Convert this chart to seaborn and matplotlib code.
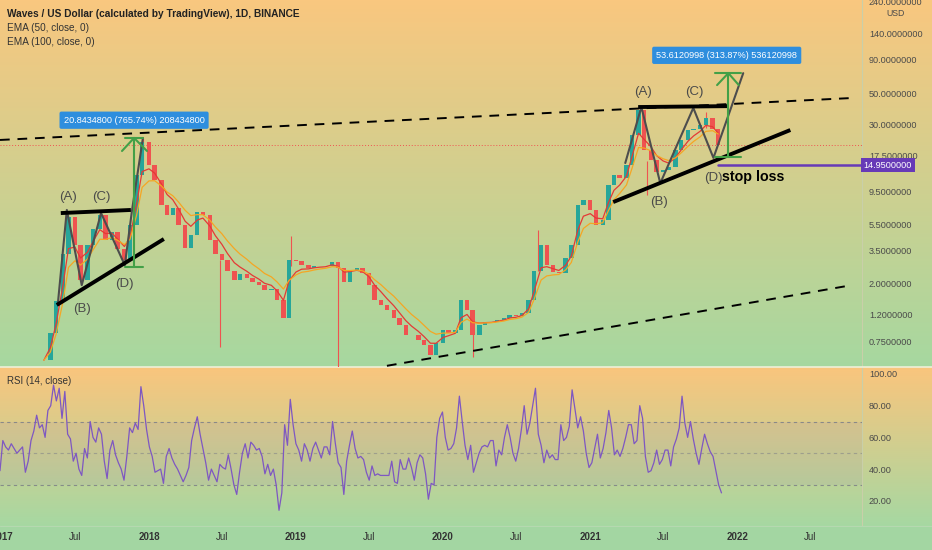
import numpy as np
import pandas as pd
import matplotlib
matplotlib.use('Agg')
import matplotlib.pyplot as plt
import matplotlib.dates as mdates
import matplotlib.ticker as mticker
import seaborn as sns

# semi-monthly closes (1st / 15th of each month)
close = [0.55, 0.87, 1.5, 3.3, 6.2, 3.9, 2.14, 3.9, 5.1, 6.4,
         4.2, 4.8, 3.6, 3.0, 5.4, 12.6, 22.0, 15.0, 11.6, 7.6,
         6.4, 7.2, 5.4, 3.7, 4.6, 6.8, 6.4, 4.2, 3.3, 3.0,
         2.5, 2.14, 2.36, 2.2, 2.06, 1.96, 1.8, 1.85, 1.52, 1.12,
         3.0, 2.95, 2.75, 2.6, 2.7, 2.7, 2.7, 2.9, 2.6, 2.06,
         2.5, 2.6, 2.4, 1.96, 1.52, 1.4, 1.29, 1.12, 1.0, 0.84,
         0.84, 0.77, 0.71, 0.60, 0.73, 0.92, 0.87, 0.92, 1.52, 1.29,
         0.84, 1.0, 1.05, 1.05, 1.09, 1.12, 1.18, 1.16, 1.22, 1.52,
         2.5, 3.9, 2.75, 2.45, 2.4, 3.1, 3.9, 7.6, 8.3, 7.0,
         5.4, 5.9, 10.7, 12.6, 12.0, 15.0, 24.9, 38.0, 19.3, 16.3,
         13.3, 13.8, 14.6, 19.3, 22.9, 27.1, 27.7, 29.5, 33.5, 27.7,
         21.0]
candle_dates = pd.date_range('2017-04-15', periods=len(close), freq='SMS')

# long wicks that stick out of the bodies
wick_dates = ['2017-12-17', '2018-06-26', '2018-12-20', '2019-04-16',
              '2020-03-15', '2020-08-24', '2021-05-22', '2021-10-16']
wick_lo = [16.0, 0.69, 2.7, 0.49, 0.58, 2.5, 9.0, 28.0]
wick_hi = [23.7, 3.0, 4.5, 2.7, 1.0, 5.0, 16.0, 37.0]

# weekly RSI (14) readings
rsi = [39, 58, 54, 52, 56, 53, 50, 52, 54, 38, 45, 58, 64, 74, 66, 68, 60, 77, 80, 93,
       83, 91, 72, 89, 62, 59, 45, 50, 40, 36, 53, 47, 70, 60, 57, 66, 62, 45, 34, 52,
       58, 49, 44, 40, 33, 48, 66, 63, 69, 65, 92, 80, 65, 54, 48, 38, 39, 40, 31, 48,
       53, 47, 43, 40, 36, 32, 36, 41, 58, 66, 73, 62, 53, 44, 33, 40, 36, 32, 43, 41,
       40, 49, 40, 30, 24, 38, 50, 56, 47, 57, 55, 52, 53, 48, 37, 43, 36, 40, 30, 14,
       25, 68, 55, 84, 68, 56, 52, 45, 56, 52, 45, 53, 57, 52, 47, 54, 54, 49, 70, 56,
       44, 41, 24, 45, 55, 64, 53, 47, 48, 46, 38, 33, 42, 36, 37, 36, 36, 36, 36, 45,
       32, 31, 46, 40, 40, 47, 41, 33, 44, 49, 47, 37, 21, 31, 30, 60, 72, 76, 60, 52,
       53, 56, 66, 86, 70, 55, 46, 55, 38, 44, 50, 54, 55, 54, 58, 58, 42, 52, 49, 60,
       68, 60, 50, 45, 53, 65, 80, 62, 69, 80, 91, 62, 55, 44, 52, 47, 49, 46, 46, 68,
       58, 60, 67, 90, 78, 66, 73, 64, 50, 41, 44, 53, 62, 47, 53, 63, 77, 66, 49, 52,
       48, 53, 60, 68, 68, 56, 58, 80, 72, 48, 38, 39, 44, 52, 43, 46, 52, 52, 42, 54,
       59, 66, 86, 69, 60, 70, 59, 50, 43, 53, 62, 56, 51, 48, 39, 30, 25]
rsi_dates = pd.date_range('2016-12-27', periods=len(rsi), freq='7D')

price_ticks = [240, 140, 90, 50, 30, 17.5, 9.5, 5.5, 3.5, 2.0, 1.2, 0.75]
rsi_ticks = [20, 40, 60, 80, 100]
last_price = 21.0
stop_loss = 14.95

# drawings on the chart
upper_dash_dates = ['2016-12-27', '2022-10-13']
upper_dash_vals = [22.9, 46.6]
lower_dash_dates = ['2019-08-15', '2022-10-13']
lower_dash_vals = [0.50, 1.96]
left_top_dates = ['2017-05-27', '2017-11-17']
left_top_vals = [6.64, 7.0]
left_base_dates = ['2017-05-17', '2018-02-07']
left_base_vals = [1.40, 4.28]
left_zig_dates = ['2017-05-20', '2017-06-11', '2017-07-18', '2017-09-04',
                  '2017-11-02', '2017-11-20', '2017-12-17']
left_zig_vals = [1.46, 7.0, 1.96, 6.64, 2.75, 7.0, 23.7]
right_top_dates = ['2021-04-30', '2021-12-07']
right_top_vals = [40.0, 40.6]
right_base_dates = ['2021-02-27', '2022-05-13']
right_base_vals = [8.0, 27.1]
right_zig_dates = ['2021-03-29', '2021-05-08', '2021-06-24', '2021-09-14',
                   '2021-11-03', '2022-01-16']
right_zig_vals = [15.5, 40.0, 11.0, 39.4, 16.9, 71.0]

# measure arrows: shaft date, bracket start/end, bottom, top, head wings
left_arrow = ['2017-11-25', '2017-11-02', '2017-12-17', 2.66, 23.7, '2017-10-26', '2017-12-27', 19.0]
right_arrow = ['2021-12-10', '2021-11-08', '2022-01-11', 17.1, 71.0, '2021-11-12', '2022-01-05', 58.0]

pattern_labels = ['(A)', '(B)', '(C)', '(D)', '(A)', '(B)', '(C)', '(D)']
pattern_label_dates = ['2017-06-14', '2017-07-18', '2017-09-04', '2017-11-02',
                       '2021-05-13', '2021-06-21', '2021-09-16', '2021-11-03']
pattern_label_vals = [8.7, 1.31, 8.7, 2.0, 51.5, 8.0, 51.5, 12.0]

measure_texts = ['20.8434800 (765.74%) 208434800', '53.6120998 (313.87%) 536120998']
measure_dates = ['2017-11-25', '2021-12-06']
measure_vals = [32.0, 96.0]


def dn(s):
    return mdates.date2num(pd.Timestamp(s))


sns.set_style('white')
plt.rcParams['font.family'] = ['Liberation Sans', 'DejaVu Sans']

W, H = 932, 550
fig = plt.figure(figsize=(W / 100, H / 100), dpi=100)

# background gradient (orange top -> green bottom, per pane)
bg = fig.add_axes([0, 0, 1, 1])
bg.axis('off')
grad = np.zeros((H, 1, 3))
t = np.linspace(0, 1, 367)[:, None]
grad[:367, 0] = np.array([249, 199, 127]) * (1 - t) + np.array([166, 216, 160]) * t
t = np.linspace(0, 1, 159)[:, None]
grad[367:526, 0] = np.array([250, 197, 125]) * (1 - t) + np.array([166, 216, 162]) * t
grad[526:, 0] = [163, 214, 162]
bg.imshow(grad / 255, aspect='auto', extent=[0, W, H, 0])
bg.set_xlim(0, W)
bg.set_ylim(H, 0)
bg.plot([862, 862], [0, 526], color='#c9cfa9', lw=0.8)
bg.plot([0, W], [367, 367], color='#eef0d8', lw=1.2)
bg.plot([0, W], [526, 526], color='#b5d8b0', lw=0.8)

xl = (dn('2016-12-27'), dn('2022-11-07'))

# ---------------- price pane ----------------
ax = fig.add_axes([0, 1 - 367 / H, 862 / W, 367 / H])
ax.patch.set_alpha(0)
ax.set_yscale('log')

c = np.array(close)
o = np.r_[c[0], c[:-1]]
up = c >= o
cols = np.where(up, '#26a69a', '#ef5350')
ax.vlines(pd.to_datetime(wick_dates), wick_lo, wick_hi, color='#ef5350', lw=0.8, zorder=2)
ax.bar(candle_dates, np.abs(c - o), bottom=np.minimum(c, o), width=11, color=cols,
       lw=0, zorder=3)

ema50 = pd.Series(close).ewm(span=4, adjust=False).mean()
ema100 = pd.Series(close).ewm(span=7, adjust=False).mean()
sns.lineplot(x=candle_dates, y=ema50.values, ax=ax, color='#e53935', lw=0.9, zorder=4)
sns.lineplot(x=candle_dates, y=ema100.values, ax=ax, color='#f5a623', lw=0.9, zorder=4)

ax.axhline(last_price, color='#ef5350', lw=0.7, ls=(0, (1, 2)))

dash = (0, (5, 4))
ax.plot(pd.to_datetime(upper_dash_dates), upper_dash_vals, color='black', lw=1.4, ls=dash)
ax.plot(pd.to_datetime(lower_dash_dates), lower_dash_vals, color='black', lw=1.4, ls=dash)
for dts, vals in [(left_top_dates, left_top_vals), (left_base_dates, left_base_vals),
                  (right_top_dates, right_top_vals), (right_base_dates, right_base_vals)]:
    ax.plot(pd.to_datetime(dts), vals, color='black', lw=2.8, solid_capstyle='butt', zorder=6)
for dts, vals in [(left_zig_dates, left_zig_vals), (right_zig_dates, right_zig_vals)]:
    ax.plot(pd.to_datetime(dts), vals, color='#4d4d4d', lw=1.5, zorder=5)

for sh, b0, b1, lo, hi, h0, h1, hv in [left_arrow, right_arrow]:
    g = '#43a047'
    ax.plot(pd.to_datetime([sh, sh]), [lo, hi], color=g, lw=1.5, zorder=6)
    ax.plot(pd.to_datetime([b0, b1]), [lo, lo], color=g, lw=1.5, zorder=6)
    ax.plot(pd.to_datetime([b0, b1]), [hi, hi], color=g, lw=1.5, zorder=6)
    ax.plot(pd.to_datetime([h0, sh, h1]), [hv, hi, hv], color=g, lw=1.5, zorder=6)

for lab, d, v in zip(pattern_labels, pattern_label_dates, pattern_label_vals):
    ax.text(dn(d), v, lab, ha='center', va='center', fontsize=9.5, color='#4a4a4a', zorder=7)

ax.text(dn('2021-11-25'), 12.2, 'stop loss', ha='left', va='center', fontsize=10.3,
        fontweight='bold', color='black', zorder=7)
ax.plot(pd.to_datetime(['2021-11-14', '2022-11-07']), [stop_loss, stop_loss],
        color='#673ab7', lw=1.8, zorder=6)

for txt, d, v in zip(measure_texts, measure_dates, measure_vals):
    ax.text(dn(d), v, txt, ha='center', va='center', fontsize=6.6, color='white', zorder=8,
            bbox=dict(boxstyle='round,pad=0.45,rounding_size=0.2', fc='#2e8ede', ec='none'))

ax.set_xlim(xl)
ax.set_ylim(0.49, 245)
ax.yaxis.tick_right()
ax.set_yticks(price_ticks)
ax.yaxis.set_major_formatter(mticker.FuncFormatter(lambda v, _: f'{v:.7f}'))
ax.yaxis.set_minor_locator(mticker.NullLocator())
ax.tick_params(axis='y', length=0, pad=5, labelsize=6.6, labelcolor='#4a4a4a')
ax.set_xticks([])
ax.set_xlabel('')
ax.set_ylabel('')
for s in ax.spines.values():
    s.set_visible(False)

ax.text(1.002, stop_loss, '14.9500000', transform=ax.get_yaxis_transform(), ha='left',
        va='center', fontsize=6.6, color='white', zorder=9, clip_on=False,
        bbox=dict(boxstyle='square,pad=0.3', fc='#673ab7', ec='none'))

fig.text(7 / W, 1 - 14 / H, 'Waves / US Dollar (calculated by TradingView), 1D, BINANCE',
         fontsize=7.3, fontweight='bold', color='#222222', va='center')
fig.text(7 / W, 1 - 28 / H, 'EMA (50, close, 0)', fontsize=7.2, color='#333333', va='center')
fig.text(7 / W, 1 - 42 / H, 'EMA (100, close, 0)', fontsize=7.2, color='#333333', va='center')
fig.text(896 / W, 1 - 13 / H, 'USD', fontsize=6.3, color='#4a4a4a', ha='center', va='center')

# ---------------- RSI pane ----------------
ax2 = fig.add_axes([0, 24 / H, 862 / W, 159 / H])
ax2.patch.set_alpha(0)
ax2.axhspan(30, 70, color='#7e57c2', alpha=0.08, lw=0)
for lv, a in [(70, 0.8), (50, 0.5), (30, 0.8)]:
    ax2.axhline(lv, color='#787b86', lw=0.8, ls=(0, (3, 3)), alpha=a)
sns.lineplot(x=rsi_dates, y=rsi, ax=ax2, color='#7e57c2', lw=0.9)
ax2.set_xlim(xl)
ax2.set_ylim(4.1, 104.4)
ax2.yaxis.tick_right()
ax2.set_yticks(rsi_ticks)
ax2.yaxis.set_major_formatter(mticker.FuncFormatter(lambda v, _: f'{v:.2f}'))
ax2.tick_params(axis='y', length=0, pad=5, labelsize=6.6, labelcolor='#4a4a4a')
ax2.set_xlabel('')
ax2.set_ylabel('')
for s in ax2.spines.values():
    s.set_visible(False)

xt = pd.to_datetime(['2017-01-01', '2017-07-01', '2018-01-01', '2018-07-01', '2019-01-01',
                     '2019-07-01', '2020-01-01', '2020-07-01', '2021-01-01', '2021-07-01',
                     '2022-01-01', '2022-07-01'])
ax2.set_xticks(xt)
ax2.set_xticklabels([d.strftime('%Y') if d.month == 1 else 'Jul' for d in xt])
for lab, d in zip(ax2.get_xticklabels(), xt):
    if d.month == 1:
        lab.set_fontweight('bold')
ax2.tick_params(axis='x', length=0, pad=4.5, labelsize=7, labelcolor='#333333')

fig.text(7 / W, 1 - 381 / H, 'RSI (14, close)', fontsize=7.0, color='#333333', va='center')

fig.savefig('out.png', dpi=100)
